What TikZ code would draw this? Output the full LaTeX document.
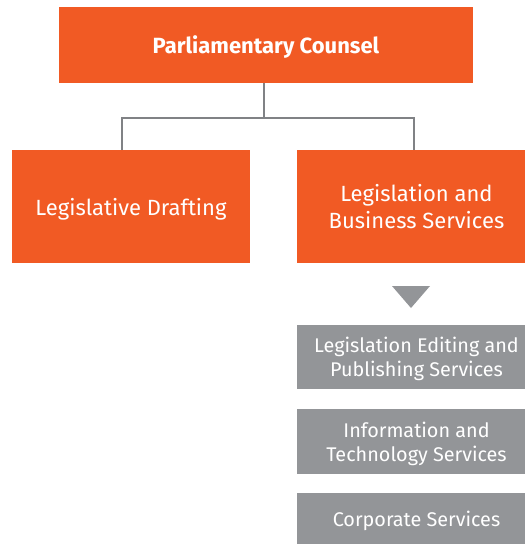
\documentclass[tikz,border=0pt]{standalone}
\usepackage{fontspec}
\setmainfont{Fira Sans}
\definecolor{unitorange}{HTML}{F15A24}
\definecolor{unitgray}{HTML}{939598}
\definecolor{linkgray}{HTML}{808285}
\tikzstyle{unit} = [fill=unitorange, text=white, align=center, inner sep=0pt, font=\fontsize{22}{27}\selectfont]
\tikzstyle{section} = [fill=unitgray, text=white, align=center, inner sep=0pt, minimum width=239pt, font=\fontsize{19.8}{24}\selectfont]
\tikzstyle{link} = [draw=linkgray, line width=2pt]
\begin{document}
\begin{tikzpicture}[x=1pt, y=1pt]
    \useasboundingbox (0,0) rectangle (525,-544);

    \node[unit, minimum width=414pt, minimum height=76pt, text depth=-1pt, font=\bfseries\fontsize{22}{27}\selectfont]
        (counsel)   at (266, -45)     {Parliamentary Counsel};
    \node[unit, minimum width=238pt, minimum height=113pt, text depth=-8pt]
        (drafting)  at (131, -206.5)  {Legislative Drafting};
    \node[unit, minimum width=239pt, minimum height=113pt, text depth=-8pt]
        (business)  at (416.5, -206.5) {Legislation and\\Business Services};

    \node[section, minimum height=64pt, text depth=-7.5pt] (editing)    at (416.5, -357)   {Legislation Editing and\\Publishing Services};
    \node[section, minimum height=65pt, text depth=-1.5pt] (technology) at (416.5, -441.5) {Information and\\Technology Services};
    \node[section, minimum height=51pt, text depth=-11pt]  (corporate)  at (416.5, -518.5) {Corporate Services};

    \fill[unitgray] (392, -286) -- (430, -286) -- (411, -308) -- cycle;

    \draw[link] ([xshift=-2pt]counsel.south) -- ++(0, -35);
    \draw[link] ([xshift=-9pt]drafting.north) -- ++(0, 32) -| ([xshift=-2.5pt]business.north);
\end{tikzpicture}
\end{document}
